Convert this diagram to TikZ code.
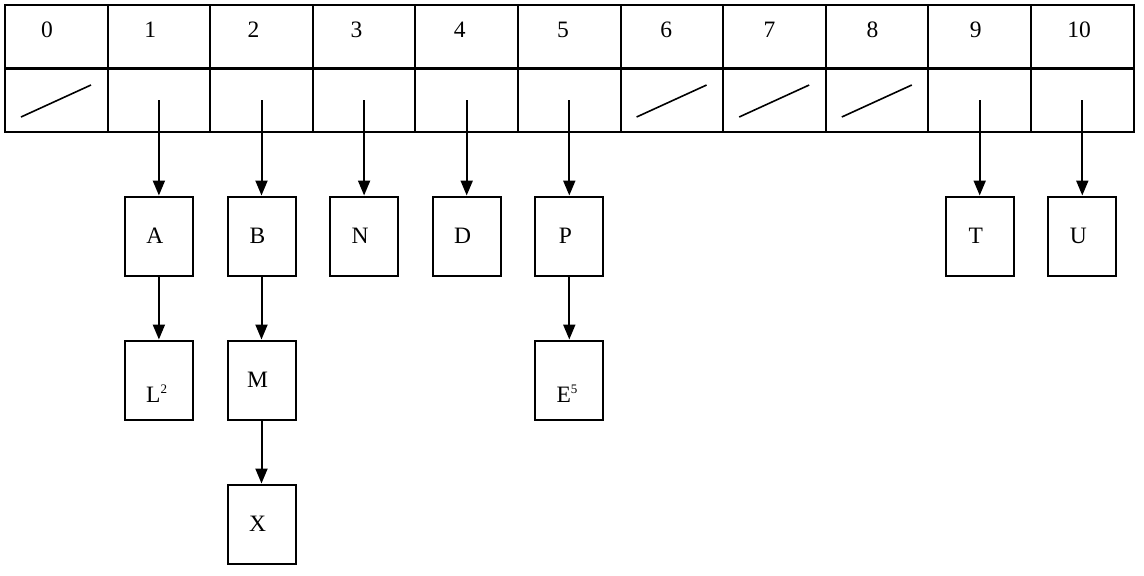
\documentclass[tikz,border=0pt]{standalone}
\usepackage{fontspec}
\setmainfont{Liberation Serif}
\usetikzlibrary{arrows.meta}
\begin{document}
\begin{tikzpicture}[x=1pt,y=-1pt,
  lbl/.style={font=\fontsize{23.5}{25}\selectfont},
  bx/.style={draw,line width=2pt,minimum width=68pt,minimum height=79pt,inner sep=0pt},
  arr/.style={line width=2pt,-{Triangle[length=15pt,width=12pt]}}]
\useasboundingbox (0,0) rectangle (1144,576);
\foreach \i in {0,...,10}{
  \pgfmathsetmacro\xa{5+\i*102.6}
  \pgfmathsetmacro\xb{5+(\i+1)*102.6}
  \draw[line width=2pt] (\xa,5) rectangle (\xb,68);
  \draw[line width=2pt] (\xa,68) rectangle (\xb,132);
  \node[lbl] (h\i) at ({47+\i*103.2},30) {\i};
  \coordinate (c\i) at ({5+(\i+0.5)*102.6},100);
}
\draw[line width=3pt] (5,68) -- (1133.6,68);
\foreach \i in {0,6,7,8}{
  \pgfmathsetmacro\xa{5+\i*102.6}
  \draw[line width=1.6pt] (\xa+16,117) -- (\xa+86,85);
}
\foreach \n/\i/\t in {A/1/A,B/2/B,N/3/N,D/4/D,P/5/P,T/9/T,U/10/U}{
  \node[bx] (\n) at ({5+(\i+0.5)*102.6},236) {};
  \node[lbl] at ([xshift=-4pt]\n.center) {\t};
  \draw[arr] (c\i) -- (\n.north);
}
\node[bx] (L) at (A.center |- 0,380) {};
\node[lbl] at ([xshift=-2pt,yshift=-14pt]L.center) {L\textsuperscript{\fontsize{13}{14}\selectfont 2}};
\node[bx] (M) at (B.center |- 0,380) {};
\node[lbl] at ([xshift=-4pt]M.center) {M};
\node[bx] (X) at (B.center |- 0,524) {};
\node[lbl] at ([xshift=-4pt]X.center) {X};
\node[bx] (E) at (P.center |- 0,380) {};
\node[lbl] at ([xshift=-2pt,yshift=-14pt]E.center) {E\textsuperscript{\fontsize{13}{14}\selectfont 5}};
\draw[arr] (A) -- (L);
\draw[arr] (B) -- (M);
\draw[arr] (M) -- (X);
\draw[arr] (P) -- (E);
\end{tikzpicture}
\end{document}
